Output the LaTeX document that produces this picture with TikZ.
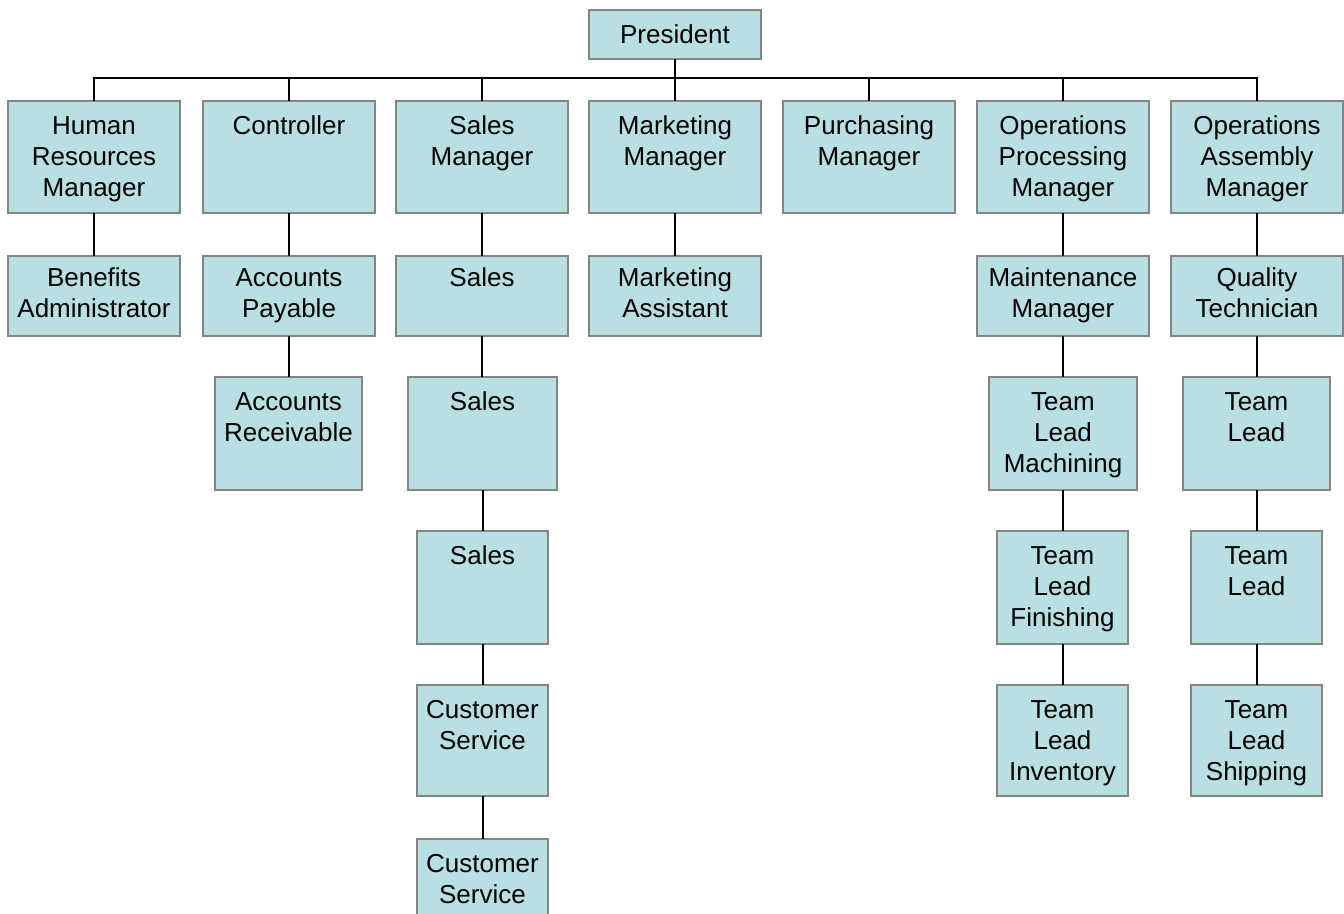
\documentclass[tikz,border=0pt]{standalone}
\usepackage{fontspec}
\setmainfont{Liberation Sans}
\definecolor{boxfill}{HTML}{B8E0E3}
\definecolor{boxline}{HTML}{858585}
\tikzset{
  orgbox/.style={draw=boxline, line width=2pt, fill=boxfill, inner sep=0pt, outer sep=0pt, anchor=north west,
    font=\fontsize{26}{31}\selectfont},
  conn/.style={draw=black, line width=2pt}
}
% #1 name, #2 left, #3 top, #4 right, #5 bottom, #6 first-baseline offset, #7 text
\newcommand\orgnode[7]{%
  \node[orgbox] (#1) at (#2,#3)
   {\parbox[c][\dimexpr#5pt-#3pt\relax][t]{\dimexpr#4pt-#2pt\relax}{\centering\rule{0pt}{#6pt}#7\par}};}
\begin{document}
\begin{tikzpicture}[x=1pt,y=-1pt]
\useasboundingbox (0,0) rectangle (1344,913);
\clip (0,0) rectangle (1344,913);
\fill[white] (0,0) rectangle (1344,913);
% top
\orgnode{pres}{589}{10}{761}{59}{33}{President}
% row 1
\orgnode{hr}{8}{101}{180}{213}{33}{Human\\Resources\\Manager}
\orgnode{ctrl}{203}{101}{375}{213}{33}{Controller}
\orgnode{smgr}{396}{101}{568}{213}{33}{Sales\\Manager}
\orgnode{mmgr}{589}{101}{761}{213}{33}{Marketing\\Manager}
\orgnode{pmgr}{783}{101}{955}{213}{33}{Purchasing\\Manager}
\orgnode{opm}{977}{101}{1149}{213}{33}{Operations\\Processing\\Manager}
\orgnode{oam}{1171}{101}{1343}{213}{33}{Operations\\Assembly\\Manager}
% row 2
\orgnode{ben}{8}{256}{180}{336}{30}{Benefits\\Administrator}
\orgnode{ap}{203}{256}{375}{336}{30}{Accounts\\Payable}
\orgnode{sa}{396}{256}{568}{336}{30}{Sales}
\orgnode{ma}{589}{256}{761}{336}{30}{Marketing\\Assistant}
\orgnode{mm}{977}{256}{1149}{336}{30}{Maintenance\\Manager}
\orgnode{qt}{1171}{256}{1343}{336}{30}{Quality\\Technician}
% row 3
\orgnode{ar}{215}{377}{362}{490}{33}{Accounts\\Receivable}
\orgnode{sb}{408}{377}{557}{490}{33}{Sales}
\orgnode{tlm}{989}{377}{1137}{490}{33}{Team\\Lead\\Machining}
\orgnode{tla}{1183}{377}{1330}{490}{33}{Team\\Lead}
% row 4
\orgnode{sc}{417}{531}{548}{644}{33}{Sales}
\orgnode{tlf}{997}{531}{1128}{644}{33}{Team\\Lead\\Finishing}
\orgnode{tlb}{1191}{531}{1322}{644}{33}{Team\\Lead}
% row 5
\orgnode{csa}{417}{685}{548}{796}{33}{Customer\\Service}
\orgnode{tli}{997}{685}{1128}{796}{33}{Team\\Lead\\Inventory}
\orgnode{tls}{1191}{685}{1322}{796}{33}{Team\\Lead\\Shipping}
% row 6
\orgnode{csb}{417}{839}{548}{951}{33}{Customer\\Service}
% connectors
\draw[conn] (pres.south) -- ++(0,19) coordinate (bar);
\foreach \n in {hr,ctrl,smgr,mmgr,pmgr,opm,oam}
  \draw[conn] (bar) -| (\n.north);
\foreach \a/\b in {hr/ben,ctrl/ap,ap/ar,smgr/sa,sa/sb,sb/sc,sc/csa,csa/csb,mmgr/ma,opm/mm,mm/tlm,tlm/tlf,tlf/tli,oam/qt,qt/tla,tla/tlb,tlb/tls}
  \draw[conn] (\a.south) -- (\a.south |- \b.north);
\end{tikzpicture}
\end{document}
